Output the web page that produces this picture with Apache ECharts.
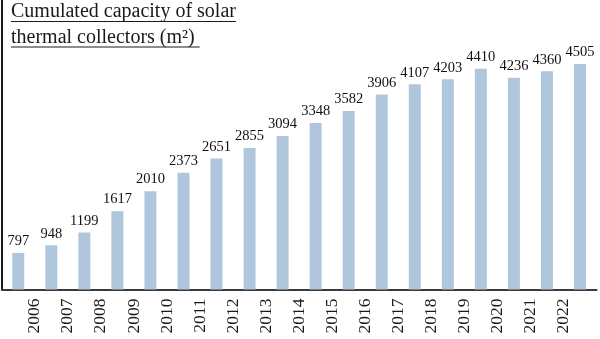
<!DOCTYPE html>
<html>
<head>
<meta charset="utf-8">
<script src="https://cdn.jsdelivr.net/npm/echarts@6/dist/echarts.min.js"></script>
<style>
  html, body { margin: 0; padding: 0; background: #fff; }
  #chart { width: 600px; height: 339px; }
</style>
</head>
<body>
<div id="chart"></div>
<script>
// Cumulated capacity of solar thermal collectors, one bar per yearly value
const capacity = [797, 948, 1199, 1617, 2010, 2373, 2651, 2855, 3094, 3348,
                  3582, 3906, 4107, 4203, 4410, 4236, 4360, 4505];
// Year labels sit on the boundaries between neighbouring bars
const yearLabels = ['2006', '2007', '2008', '2009', '2010', '2011', '2012', '2013', '2014',
                    '2015', '2016', '2017', '2018', '2019', '2020', '2021', '2022'];
const titleLines = ['Cumulated capacity of solar', 'thermal collectors (m\u00B2)'];

const SERIF = '"Liberation Serif", "DejaVu Serif", serif';
const TITLE_SIZE = 20;

function textWidth(str, size) {
  const ctx = document.createElement('canvas').getContext('2d');
  ctx.font = size + 'px ' + SERIF;
  return ctx.measureText(str).width;
}

const barSlots = capacity.map((_, i) => String(i));
// one extra empty slot at each end so the labels land on the bar boundaries
const boundarySlots = [''].concat(yearLabels, ['']);

const titleX = 11;
const titleGraphics = [];
titleLines.forEach((line, i) => {
  const top = 2 + i * 25.5;
  const w = textWidth(i === titleLines.length - 1 ? line + ' ' : line, TITLE_SIZE);
  titleGraphics.push({
    type: 'text', left: titleX, top: top,
    style: { text: line, font: TITLE_SIZE + 'px ' + SERIF, fill: '#1a1a1a' }
  });
  titleGraphics.push({
    type: 'line',
    shape: { x1: titleX, y1: top + 19.5, x2: titleX + w, y2: top + 19.5 },
    style: { stroke: '#1a1a1a', lineWidth: 1 }
  });
});

const chart = echarts.init(document.getElementById('chart'));
chart.setOption({
  animation: false,
  backgroundColor: '#fff',
  grid: { left: 1.75, right: 3.5, top: 0, bottom: 49.5, containLabel: false },
  xAxis: [
    {
      type: 'category',
      data: barSlots,
      boundaryGap: true,
      axisLine: { show: true, lineStyle: { color: '#3a3a3a', width: 2 } },
      axisTick: { show: false },
      axisLabel: { show: false }
    },
    {
      type: 'category',
      data: boundarySlots,
      boundaryGap: false,
      position: 'bottom',
      axisLine: { show: false },
      axisTick: { show: false },
      axisLabel: {
        show: true, interval: 0, rotate: 90, margin: 9,
        fontFamily: SERIF, fontSize: 17.5, color: '#1a1a1a'
      }
    }
  ],
  yAxis: {
    type: 'value',
    min: 80, max: 5760,
    axisLine: { show: true, lineStyle: { color: '#1a1a1a', width: 2 } },
    axisTick: { show: false },
    axisLabel: { show: false },
    splitLine: { show: false }
  },
  series: [{
    type: 'bar',
    xAxisIndex: 0,
    data: capacity,
    barWidth: 12,
    itemStyle: { color: '#afc6dc' },
    label: {
      show: true, position: 'top', distance: 4,
      fontFamily: SERIF, fontSize: 14.5, color: '#111'
    }
  }],
  graphic: titleGraphics
});
</script>
</body>
</html>
